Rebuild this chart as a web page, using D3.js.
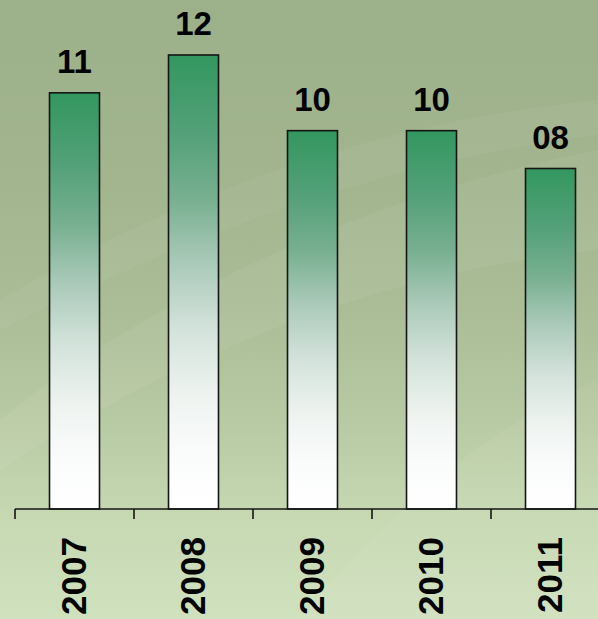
<!DOCTYPE html>
<html>
<head>
<meta charset="utf-8">
<script src="https://cdn.jsdelivr.net/npm/d3@7"></script>
<style>
  html, body { margin: 0; padding: 0; overflow: hidden; }
  svg { display: block; }
</style>
</head>
<body>
<script>
// Data
const years = ["2007", "2008", "2009", "2010", "2011"];
const values = [11, 12, 10, 10, 9];
const valueLabels = ["11", "12", "10", "10", "08"];

const W = 598, H = 619;
const svg = d3.select("body").append("svg").attr("width", W).attr("height", H);
const defs = svg.append("defs");

// background gradient
const bg = defs.append("linearGradient").attr("id", "bg").attr("x1", 0).attr("y1", 0).attr("x2", 0).attr("y2", 1);
[[0, "#9cb08a"], [0.3, "#a2b58e"], [0.5, "#aabd96"], [0.68, "#b8caa3"], [0.84, "#c7d9b3"], [1, "#d0e1be"]]
  .forEach(([o, c]) => bg.append("stop").attr("offset", o).attr("stop-color", c));

// bar gradient
const bar = defs.append("linearGradient").attr("id", "bar").attr("x1", 0).attr("y1", 0).attr("x2", 0).attr("y2", 1);
[[0, "#33975f"], [0.18, "#55a17a"], [0.32, "#79b091"], [0.45, "#a8c8b7"], [0.6, "#d2e2da"], [0.75, "#eef3f0"], [0.88, "#fafcfb"], [1, "#ffffff"]]
  .forEach(([o, c]) => bar.append("stop").attr("offset", o).attr("stop-color", c));

svg.append("rect").attr("width", W).attr("height", H).attr("fill", "url(#bg)");

// subtle swooshes
const sw = svg.append("g").attr("fill", "#ffffff");
sw.append("path").attr("opacity", 0.06)
  .attr("d", "M0,420 C150,300 350,200 598,150 L598,250 C400,270 200,340 0,470 Z");
sw.append("path").attr("opacity", 0.05)
  .attr("d", "M0,300 C200,180 400,120 598,100 L598,135 C400,160 220,220 0,330 Z");
sw.append("path").attr("opacity", 0.05)
  .attr("d", "M300,619 C380,520 480,430 598,380 L598,619 Z");

const x = d3.scaleBand().domain(years).range([15, 610]).paddingInner(0.58).paddingOuter(0.29);
const y = d3.scaleLinear().domain([0, 12]).range([509, 55]);

const font = "'Liberation Sans', Arial, sans-serif";

// bars
svg.append("g").selectAll("rect").data(years).join("rect")
  .attr("x", d => x(d))
  .attr("y", (d, i) => y(values[i]))
  .attr("width", x.bandwidth())
  .attr("height", (d, i) => y(0) - y(values[i]))
  .attr("fill", "url(#bar)")
  .attr("stroke", "#151515")
  .attr("stroke-width", 1.6);

// value labels
svg.append("g").selectAll("text").data(years).join("text")
  .attr("x", d => x(d) + x.bandwidth() / 2)
  .attr("y", (d, i) => y(values[i]) - 20)
  .attr("text-anchor", "middle")
  .attr("font-family", font)
  .attr("font-weight", "bold")
  .attr("font-size", 33)
  .attr("fill", "#000")
  .text((d, i) => valueLabels[i]);

// axis
const axisY = y(0);
const step = x.step();
const tickXs = years.map(d => x(d) - x.paddingOuter() * step).concat([x.range()[1]]);
const ax = svg.append("g").attr("stroke", "#151515").attr("stroke-width", 1.6);
ax.append("line").attr("x1", tickXs[0]).attr("x2", W).attr("y1", axisY).attr("y2", axisY);
ax.selectAll("line.tick").data(tickXs).join("line").attr("class", "tick")
  .attr("x1", d => d).attr("x2", d => d).attr("y1", axisY).attr("y2", axisY + 10);

// year labels
svg.append("g").selectAll("text").data(years).join("text")
  .attr("transform", d => `translate(${x(d) + x.bandwidth() / 2},537) rotate(-90)`)
  .attr("dy", "0.34em")
  .attr("text-anchor", "end")
  .attr("font-family", font)
  .attr("font-weight", "bold")
  .attr("font-size", 35)
  .attr("fill", "#000")
  .text(d => d);
</script>
</body>
</html>
